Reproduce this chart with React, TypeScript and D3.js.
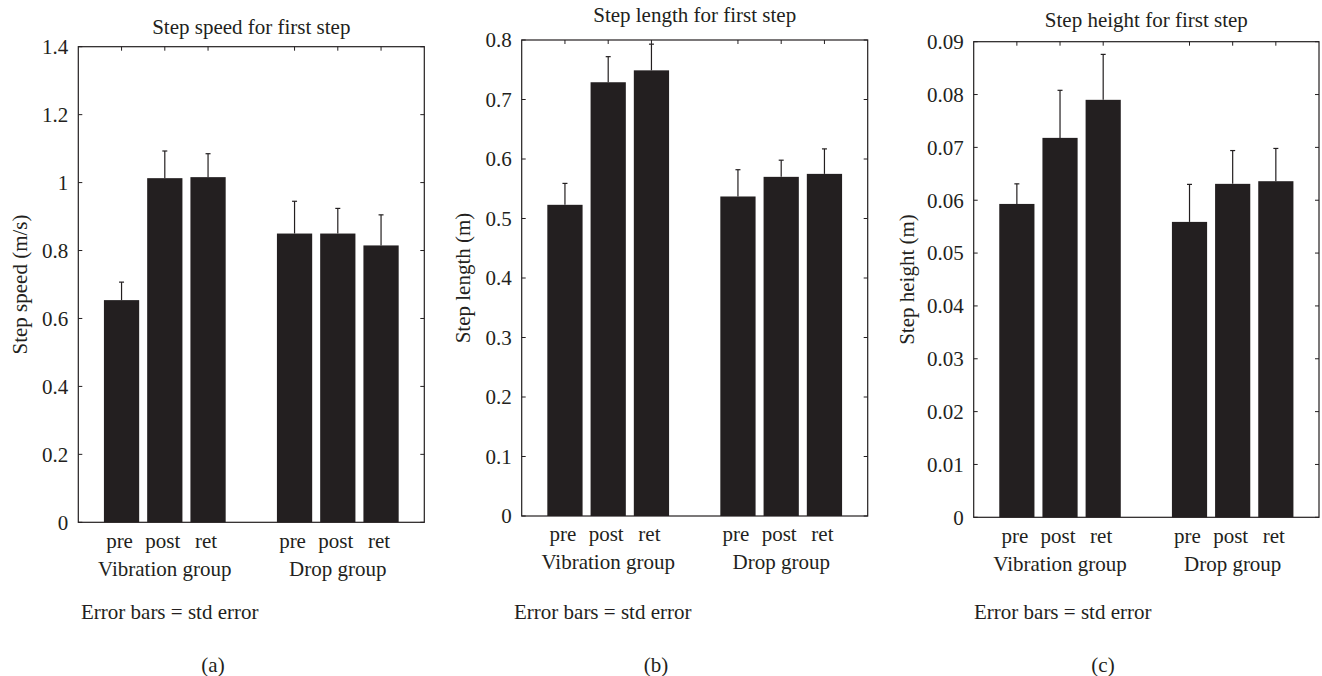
import React from "react";
import * as d3 from "d3";

const categories = ["pre", "post", "ret", "pre", "post", "ret"];
const groups = ["Vibration group", "Drop group"];
const groupCenters = [2, 6];
const slotPositions = [1, 2, 3, 5, 6, 7];

const speedMeans = [0.654, 1.013, 1.016, 0.85, 0.85, 0.815];
const speedSE = [0.053, 0.08, 0.069, 0.095, 0.074, 0.09];
const lengthMeans = [0.523, 0.729, 0.749, 0.537, 0.57, 0.575];
const lengthSE = [0.036, 0.043, 0.044, 0.045, 0.028, 0.042];
const heightMeans = [0.0593, 0.0718, 0.079, 0.0559, 0.0631, 0.0636];
const heightSE = [0.0038, 0.009, 0.0086, 0.0071, 0.0063, 0.0062];

const titles = ["Step speed for first step", "Step length for first step", "Step height for first step"];
const yLabels = ["Step speed (m/s)", "Step length (m)", "Step height (m)"];
const yMaxes = [1.4, 0.8, 0.09];
const yTickCounts = [7, 8, 9];
const panelTags = ["(a)", "(b)", "(c)"];
const note = "Error bars = std error";

const INK = "#231f20";
const FONT = "'Liberation Serif', 'Times New Roman', serif";
const FS = 21;

const layouts = [
  { left: 78.3, right: 424.3, top: 46.7, bottom: 522.3, titleY: 27, ylabX: 20, tagX: 213, noteX: 81 },
  { left: 521.7, right: 867.7, top: 40, bottom: 516, titleY: 15, ylabX: 463, tagX: 656, noteX: 514 },
  { left: 973.7, right: 1319, top: 41.7, bottom: 517.3, titleY: 19.5, ylabX: 906.7, tagX: 1103, noteX: 974 },
];

const seriesMeans = [speedMeans, lengthMeans, heightMeans];
const seriesSE = [speedSE, lengthSE, heightSE];

function Panel({ idx }: { idx: number }) {
  const L = layouts[idx];
  const x = d3.scaleLinear().domain([0, 8]).range([L.left, L.right]);
  const y = d3.scaleLinear().domain([0, yMaxes[idx]]).range([L.bottom, L.top]);
  const ticks = y.ticks(yTickCounts[idx]);
  const fmt = d3.format("~g");
  const unit = x(1) - x(0);
  const bw = unit * 0.815;
  const tl = 4;
  const means = seriesMeans[idx];
  const se = seriesSE[idx];
  const cy = (L.top + L.bottom) / 2;
  return (
    <g>
      <text x={(L.left + L.right) / 2} y={L.titleY} dy="0.35em" textAnchor="middle" fontSize={FS}>
        {titles[idx]}
      </text>
      {means.map((m, i) => {
        const cx = x(slotPositions[i]);
        return (
          <rect key={"b" + i} x={cx - bw / 2} y={y(m)} width={bw} height={y(0) - y(m)} fill={INK} />
        );
      })}
      {means.map((m, i) => {
        const cx = x(slotPositions[i]);
        const top = y(m + se[i]);
        return (
          <g key={"e" + i} stroke={INK} strokeWidth={1.2}>
            <line x1={cx} x2={cx} y1={y(m)} y2={top} />
            <line x1={cx - 2.5} x2={cx + 2.5} y1={top} y2={top} />
          </g>
        );
      })}
      <rect x={L.left} y={L.top} width={L.right - L.left} height={L.bottom - L.top} fill="none" stroke={INK} strokeWidth={1.2} />
      {ticks.map((t, i) => (
        <g key={"t" + i}>
          <line x1={L.left} x2={L.left + tl} y1={y(t)} y2={y(t)} stroke={INK} strokeWidth={1} />
          <line x1={L.right} x2={L.right - tl} y1={y(t)} y2={y(t)} stroke={INK} strokeWidth={1} />
          <text x={L.left - 10} y={y(t)} dy="0.35em" textAnchor="end" fontSize={FS}>
            {fmt(t)}
          </text>
        </g>
      ))}
      {slotPositions.map((p, i) => (
        <g key={"xt" + i}>
          <line x1={x(p)} x2={x(p)} y1={L.top} y2={L.top + tl} stroke={INK} strokeWidth={1} />
          <text x={x(p) - 2} y={L.bottom + 18} dy="0.35em" textAnchor="middle" fontSize={FS}>
            {categories[i]}
          </text>
        </g>
      ))}
      {groups.map((g, i) => (
        <text key={"g" + i} x={x(groupCenters[i])} y={L.bottom + 46} dy="0.35em" textAnchor="middle" fontSize={FS}>
          {g}
        </text>
      ))}
      <text
        transform={`translate(${L.ylabX},${cy}) rotate(-90)`}
        dy="0.35em"
        textAnchor="middle"
        fontSize={FS}
      >
        {yLabels[idx]}
      </text>
      <text x={L.noteX} y={611.7} dy="0.35em" fontSize={FS}>
        {note}
      </text>
      <text x={L.tagX} y={665} dy="0.35em" textAnchor="middle" fontSize={FS}>
        {panelTags[idx]}
      </text>
    </g>
  );
}

export default function App() {
  return (
    <svg
      width={1322}
      height={676}
      style={{ position: "absolute", left: 0, top: 0, background: "#fff" }}
      fontFamily={FONT}
      fill={INK}
    >
      <rect x={0} y={0} width={1322} height={676} fill="#fff" />
      {[0, 1, 2].map((i) => (
        <Panel key={i} idx={i} />
      ))}
    </svg>
  );
}
